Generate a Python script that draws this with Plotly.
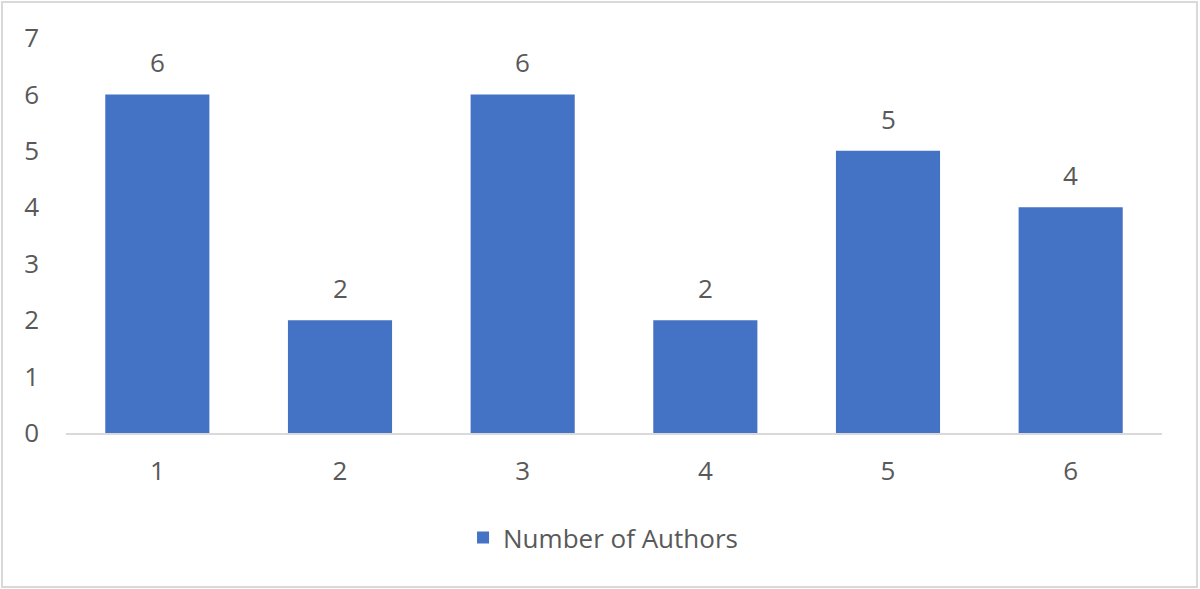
import plotly.graph_objects as go

# Data
categories = ["1", "2", "3", "4", "5", "6"]
authors = [6, 2, 6, 2, 5, 4]
y_ticks = [0, 1, 2, 3, 4, 5, 6, 7]

bar_color = "#4472C4"
text_color = "#595959"
font_family = "Open Sans, Liberation Sans, sans-serif"

fig = go.Figure()

fig.add_trace(go.Bar(
    x=categories,
    y=authors,
    name="Number of Authors",
    marker=dict(color=bar_color, line=dict(width=0)),
    width=0.57,
))

# value labels above bars (x given as category index)
for i, v in enumerate(authors):
    fig.add_annotation(x=i, y=v, text=str(v), showarrow=False,
                       yanchor="bottom", yshift=12,
                       font=dict(size=26, color=text_color, family=font_family))

fig.update_layout(
    width=1200, height=589,
    margin=dict(l=66, r=38, t=38, b=156),
    paper_bgcolor="white",
    plot_bgcolor="white",
    font=dict(family=font_family, size=26, color=text_color),
    showlegend=True,
    legend=dict(orientation="h", x=0.49, xanchor="center", y=-0.265, yanchor="middle",
                font=dict(size=26, color=text_color), itemwidth=30),
    xaxis=dict(type="category", range=[-0.5, len(categories) - 0.5],
               showline=True, linecolor="#d9d9d9", linewidth=2, ticks="",
               showgrid=False, ticklabelstandoff=14, tickfont=dict(size=26)),
    yaxis=dict(range=[0, 7], tickvals=y_ticks, showgrid=False, zeroline=False,
               showline=False, ticks="", ticklabelstandoff=26, tickfont=dict(size=26)),
)

# outer border around the chart
fig.add_shape(type="rect", xref="paper", yref="paper",
              x0=-0.0584, x1=1.0319, y0=-0.3899, y1=1.0911,
              line=dict(color="#d9d9d9", width=2), fillcolor="rgba(0,0,0,0)")

fig.write_html("out.html", config={"displayModeBar": False},
               post_script="document.body.style.margin='0';")
